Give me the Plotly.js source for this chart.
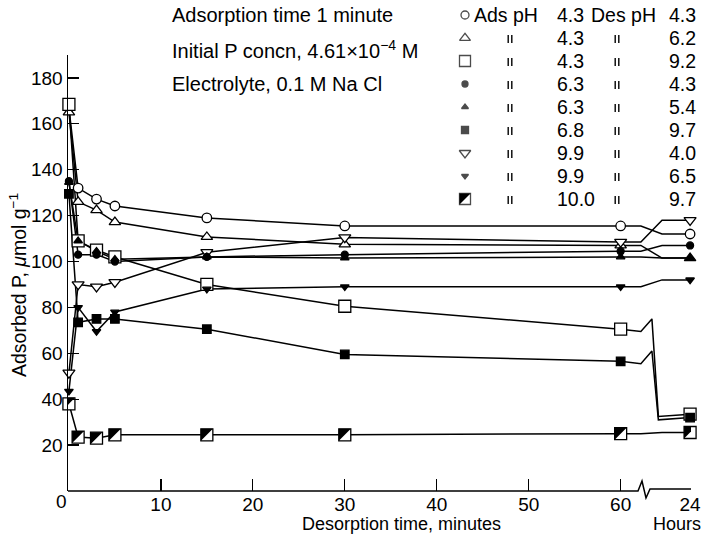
<!DOCTYPE html>
<html><head><meta charset="utf-8">
<script src="https://cdn.plot.ly/plotly-3.0.1.min.js"></script>
<style>html,body{margin:0;padding:0;background:#fff}#chart{width:704px;height:544px}</style>
</head><body><div id="chart"></div>
<script>
// ---------------- data ----------------
const timesMin = [0, 1, 3, 5, 15, 30, 60];          // desorption time, minutes
const xTickVals = [10, 20, 30, 40, 50, 60];
const hoursLabel = "24";                              // last reading, hours
const adsPH = ["4.3", "4.3", "4.3", "6.3", "6.3", "6.8", "9.9", "9.9", "10.0"];
const desPH = ["4.3", "6.2", "9.2", "4.3", "5.4", "9.7", "4.0", "6.5", "9.7"];
const yTickVals = [20, 40, 60, 80, 100, 120, 140, 160, 180];

const ads43des43  = [167, 132, 127.2, 124.2, 119, 115.5, 115.5];
const ads43des62  = [165, 126, 122.4, 117.2, 110.7, 107.5, 107];
const ads43des92  = [168.5, 109, 105, 102, 90, 80.5, 70.5];
const ads63des43  = [135, 103, 103, 100, 102, 103, 104.5];
const ads63des54  = [134.5, 109, 104.5, 101, 102, 101.5, 102];
const ads68des97  = [129.5, 73.5, 75, 75, 70.5, 59.5, 56.5];
const ads99des40  = [51.5, 90, 89, 91, 104, 110.5, 108.5];
const ads99des65  = [43.5, 80, 69.5, 78, 88, 89, 89];
const ads100des97 = [38, 23.5, 23, 24.5, 24.5, 24.5, 25];
const after24h    = [112, 101.5, 33.5, 107, 101.5, 32, 118, 92, 25.5];

const seriesValues = [ads43des43, ads43des62, ads43des92, ads63des43, ads63des54,
                      ads68des97, ads99des40, ads99des65, ads100des97];

// ---------------- style / layout ----------------
const F = '"Liberation Sans", Arial, Helvetica, sans-serif';
const W = 704, H = 544;
const PL = 68, PR = 691, PT = 55, PB = 491;      // plot area in page pixels
const HOURS_X = 67.55;          // axis position used for the 24 h reading (after the break)
const BREAK_A = 62.2, BREAK_B = 64.5, SPIKE_UP = 63.4, SPIKE_DN = 64.1;
const LW = 1.5;
const styles = [
  {symbol: 'circle', size: 9.5, fill: '#fff', lsize: 8},
  {symbol: 'triangle-up', size: 10, fill: '#fff', lsize: 9.5},
  {symbol: 'square', size: 12, fill: '#fff', lsize: 11},
  {symbol: 'circle', size: 7, fill: '#000', lsize: 6},
  {symbol: 'triangle-up', size: 7.5, fill: '#000', lsize: 6},
  {symbol: 'square', size: 8.5, fill: '#000', lsize: 7},
  {symbol: 'triangle-down', size: 10.5, fill: '#fff', lsize: 10},
  {symbol: 'triangle-down', size: 7.5, fill: '#000', lsize: 6},
  {symbol: 'square', size: 12, fill: '#fff', lsize: 11, half: true}
];
const markerOrder = [0, 1, 2, 6, 8, 3, 4, 5, 7];
// half-filled square: black triangle (pixel path, y downward)
const halfPath = s => `M${-s},${-s} L${-s},${s} L${s},${s} Z`;

const traces = [];
const shapes = [];

// lines (including the connection across the axis break)
seriesValues.forEach((vals, i) => {
  const v60 = vals[vals.length - 1], v24 = after24h[i];
  let bx, by;
  if (v60 - v24 > 20) {           // large drop: drawn with a spike across the break
    bx = [BREAK_A, SPIKE_UP, SPIKE_DN, HOURS_X];
    by = [v60 - 1, v60 + 4.5, v24 - 1, v24];
  } else {
    bx = [BREAK_A, BREAK_B, HOURS_X];
    by = [v60, v24, v24];
  }
  traces.push({
    type: 'scatter', mode: 'lines', x: timesMin.concat(bx), y: vals.concat(by),
    line: {color: '#000', width: LW}, hoverinfo: 'skip', showlegend: false
  });
});

// markers
markerOrder.forEach(i => {
  const st = styles[i];
  const xs = timesMin.concat([HOURS_X]);
  const ys = seriesValues[i].concat([after24h[i]]);
  traces.push({
    type: 'scatter', mode: 'markers', x: xs, y: ys, cliponaxis: false,
    name: 'Ads pH ' + adsPH[i] + ' Des pH ' + desPH[i],
    marker: {symbol: st.symbol, size: st.size, color: st.fill, line: {color: '#000', width: 1.3}},
    showlegend: false
  });
  if (st.half) {
    xs.forEach((x, k) => shapes.push({
      type: 'path', xref: 'x', yref: 'y', xsizemode: 'pixel', ysizemode: 'pixel',
      xanchor: x, yanchor: ys[k], layer: 'above',
      path: halfPath(st.size / 2), fillcolor: '#000', line: {width: 0}
    }));
  }
});

// legend table, drawn on a full-page overlay axis measured in page pixels
const LEG_SYM_X = 465, LEG_Y0 = 15, LEG_DY = 23;
const legY = adsPH.map((_, i) => LEG_Y0 + LEG_DY * i);
traces.push({
  type: 'scatter', mode: 'markers', xaxis: 'x2', yaxis: 'y2', cliponaxis: false,
  x: legY.map(() => LEG_SYM_X), y: legY, hoverinfo: 'skip', showlegend: false,
  marker: {symbol: styles.map(s => s.symbol), size: styles.map(s => s.lsize),
           color: styles.map(s => s.fill), line: {color: '#000', width: 1.3}}
});
styles.forEach((st, i) => {
  if (st.half) {
    shapes.push({type: 'path', xref: 'x2', yref: 'y2', xsizemode: 'pixel', ysizemode: 'pixel',
      xanchor: LEG_SYM_X, yanchor: legY[i], layer: 'above',
      path: halfPath(st.lsize / 2), fillcolor: '#000', line: {width: 0}});
  }
});

const annotations = [];
function ann(text, x, y, o) {
  annotations.push(Object.assign({text, x, y, xref: 'x2', yref: 'y2', showarrow: false,
    xanchor: 'left', yanchor: 'middle', font: {family: F, size: 19.5, color: '#000'}}, o || {}));
}
function ditto(xc, yc) {
  [-1.8, 1.8].forEach(dx => shapes.push({type: 'line', xref: 'x2', yref: 'y2',
    x0: xc + dx, x1: xc + dx, y0: yc - 3, y1: yc + 5, line: {color: '#000', width: 1.4}}));
}
adsPH.forEach((a, i) => {
  const y = legY[i];
  if (i === 0) { ann('Ads pH', 472, y); ann('Des pH', 589, y); }
  else { ditto(510, y); ditto(617, y); }
  ann(a, 555, y);
  ann(desPH[i], 667, y);
});
ann('Adsorption time 1 minute', 170, 15, {font: {family: F, size: 20, color: '#000'}});
ann('Initial P concn, 4.61\u00d710<sup>\u22124</sup> M', 170, 49, {font: {family: F, size: 20, color: '#000'}});
ann('Electrolyte, 0.1 M Na Cl', 170, 84, {font: {family: F, size: 20, color: '#000'}});
ann('0', 61, 501, {xanchor: 'center', font: {family: F, size: 19, color: '#000'}});
ann('Desorption time, minutes', 401, 524, {xanchor: 'center', font: {family: F, size: 18, color: '#000'}});
ann('Hours', 677, 524, {xanchor: 'center', font: {family: F, size: 18, color: '#000'}});
ann('Adsorbed P, <i>\u03bc</i>mol g<sup>\u22121</sup>', 18, 285,
    {xanchor: 'center', textangle: -90, font: {family: F, size: 19.5, color: '#000'}});

// x axis line with the break
shapes.push({type: 'path', xref: 'x2', yref: 'y2', layer: 'above',
  path: `M${PL},${PB} L638,${PB} L642,481 L646,498 L650,489 L${PR},489`,
  line: {color: '#000', width: 1.5}});

const layout = {
  width: W, height: H, margin: {l: 0, r: 0, t: 0, b: 0},
  paper_bgcolor: '#fff', plot_bgcolor: 'rgba(0,0,0,0)', showlegend: false,
  font: {family: F, color: '#000'},
  xaxis: {domain: [PL / W, PR / W], anchor: 'y', range: [-0.1, 67.65],
          tickvals: xTickVals.concat([HOURS_X]),
          ticktext: xTickVals.map(String).concat([hoursLabel]),
          ticks: 'inside', ticklen: 12, tickwidth: 1.3, tickcolor: '#000',
          showgrid: false, zeroline: false, showline: false,
          tickfont: {family: F, size: 19, color: '#000'}},
  yaxis: {domain: [1 - PB / H, 1 - PT / H], anchor: 'x', range: [0, 190], tickvals: yTickVals,
          ticks: 'inside', ticklen: 11,
          tickwidth: 1.3, tickcolor: '#000', showline: true, linewidth: 1.5, linecolor: '#000',
          showgrid: false, zeroline: false, tickfont: {family: F, size: 19, color: '#000'}},
  xaxis2: {domain: [0, 1], anchor: 'y2', range: [0, W], visible: false, fixedrange: true},
  yaxis2: {domain: [0, 1], anchor: 'x2', range: [H, 0], visible: false, fixedrange: true},
  annotations, shapes
};
Plotly.newPlot('chart', traces, layout, {displayModeBar: false, staticPlot: true});
</script></body></html>
